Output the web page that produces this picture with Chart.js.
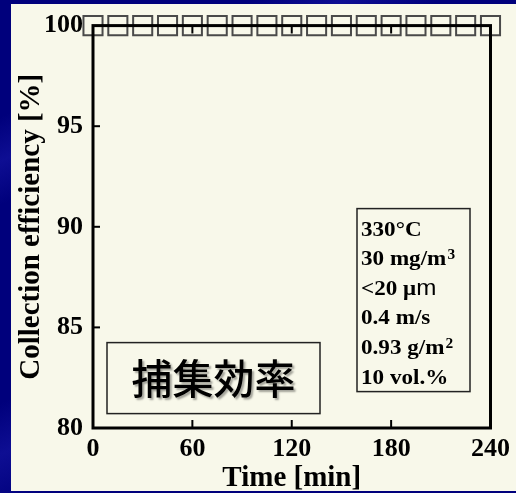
<!DOCTYPE html>
<html>
<head>
<meta charset="utf-8">
<script src="https://cdn.jsdelivr.net/npm/chart.js@4/dist/chart.umd.min.js"></script>
<style>
  html, body { margin: 0; padding: 0; }
  body {
    width: 516px; height: 493px; overflow: hidden;
    background:
      linear-gradient(155deg, rgba(40,40,190,0) 0%, rgba(40,40,190,0) 16%, rgba(40,40,190,0.35) 22%, rgba(40,40,190,0) 28%,
        rgba(40,40,190,0) 55%, rgba(40,40,190,0.35) 62%, rgba(40,40,190,0) 70%, rgba(40,40,190,0) 100%),
      #00007c;
    position: relative;
  }
  .panel {
    position: absolute; left: 11px; top: 4px; width: 505px; height: 487px;
    background: #f8f8ea;
  }
  .wrap { position: absolute; left: 0; top: 0; width: 516px; height: 493px; }
</style>
</head>
<body>
<div class="panel"></div>
<div class="wrap"><canvas id="c"></canvas></div>
<script>
// time [min] and collection efficiency [%]
const times = [0, 15, 30, 45, 60, 75, 90, 105, 120, 135, 150, 165, 180, 195, 210, 225, 240];
const efficiency = [100, 100, 100, 100, 100, 100, 100, 100, 100, 100, 100, 100, 100, 100, 100, 100, 100];
const xTicks = [0, 60, 120, 180, 240];
const yTicks = [80, 85, 90, 95, 100];
// '^' starts a superscript, '|' switches to sans for the rest
const conditions = ['330°C', '30 mg/m^3', '<20 μ|m', '0.4 m/s', '0.93 g/m^2', '10 vol.%'];
const label = '捕集効率';

const serif = "'Liberation Serif', 'Times New Roman', serif";

function drawCondition(ctx, text, x, y) {
  let main = text, sup = '', sans = '';
  if (text.includes('^')) [main, sup] = text.split('^');
  if (text.includes('|')) [main, sans] = text.split('|');
  ctx.font = 'bold 21px ' + serif;
  ctx.fillText(main, x, y);
  let cx = x + ctx.measureText(main).width;
  if (sup) {
    ctx.font = 'bold 14px ' + serif;
    ctx.fillText(sup, cx + 1, y - 6);
  }
  if (sans) {
    ctx.font = '22px "Liberation Sans", Arial, sans-serif';
    ctx.fillText(sans, cx, y);
  }
}

// frame, inward ticks and the two text boxes
const decor = {
  id: 'decor',
  afterDatasetsDraw(chart) {
    const { ctx, chartArea: a, scales: { x, y } } = chart;
    ctx.save();
    ctx.strokeStyle = '#000';
    ctx.lineWidth = 2;
    xTicks.slice(1, -1).forEach(v => {
      const px = x.getPixelForValue(v);
      ctx.beginPath();
      ctx.moveTo(px, a.bottom); ctx.lineTo(px, a.bottom - 8);
      ctx.moveTo(px, a.top); ctx.lineTo(px, a.top + 8);
      ctx.stroke();
    });
    yTicks.slice(1, -1).forEach(v => {
      const py = y.getPixelForValue(v);
      ctx.beginPath();
      ctx.moveTo(a.left, py); ctx.lineTo(a.left + 7, py);
      ctx.stroke();
    });
    ctx.lineWidth = 3;
    ctx.strokeRect(a.left, a.top, a.right - a.left, a.bottom - a.top);

    // conditions box
    const bx = a.left + 264, by = a.top + 183, bw = 113, bh = 183;
    ctx.lineWidth = 1.5;
    ctx.strokeStyle = '#222';
    ctx.strokeRect(bx, by, bw, bh);
    ctx.fillStyle = '#000';
    ctx.textBaseline = 'alphabetic';
    ctx.textAlign = 'left';
    conditions.forEach((t, i) => {
      const tx = bx + 4, ty = by + 27 + i * 29.6;
      ctx.save();
      ctx.translate(tx, ty);
      ctx.scale(1.1, 1);
      drawCondition(ctx, t, 0, 0);
      ctx.restore();
    });

    // Japanese label box
    const lx = a.left + 14, ly = a.top + 317, lw = 213, lh = 71;
    ctx.strokeRect(lx, ly, lw, lh);
    ctx.font = '500 41px "Noto Sans CJK JP", sans-serif';
    ctx.textAlign = 'center';
    ctx.textBaseline = 'middle';
    ctx.shadowColor = 'rgba(0,0,0,0.35)';
    ctx.shadowOffsetX = 2;
    ctx.shadowOffsetY = 2;
    ctx.shadowBlur = 2;
    ctx.fillText(label, lx + lw / 2, ly + lh / 2);
    ctx.restore();
  }
};

new Chart(document.getElementById('c'), {
  type: 'scatter',
  data: {
    datasets: [{
      data: times.map((t, i) => ({ x: t, y: efficiency[i] })),
      pointStyle: 'rect',
      pointRadius: 13.5,
      pointHoverRadius: 13.5,
      borderColor: '#4a4a4a',
      borderWidth: 2,
      backgroundColor: 'rgba(0,0,0,0)',
      clip: false
    }]
  },
  options: {
    responsive: true,
    maintainAspectRatio: false,
    animation: false,
    layout: { padding: { left: 0, top: 24, right: 21, bottom: 0 } },
    plugins: { legend: { display: false }, tooltip: { enabled: false } },
    scales: {
      x: {
        type: 'linear',
        min: 0, max: 240,
        afterFit: s => { s.height = 65; },
        afterBuildTicks: s => { s.ticks = xTicks.map(v => ({ value: v })); },
        grid: { display: false, drawTicks: false },
        border: { display: false },
        ticks: { color: '#000', padding: 6, font: { family: serif, size: 26, weight: 'bold' } },
        title: {
          display: true, text: 'Time [min]', color: '#000',
          padding: { top: 0, bottom: 0 },
          font: { family: serif, size: 29, weight: 'bold', lineHeight: 1 }
        }
      },
      y: {
        min: 80, max: 100,
        afterFit: s => { s.width = 93; },
        afterBuildTicks: s => { s.ticks = yTicks.map(v => ({ value: v })); },
        grid: { display: false, drawTicks: false },
        border: { display: false },
        ticks: { color: '#000', padding: 10, font: { family: serif, size: 26, weight: 'bold' } },
        title: {
          display: true, text: 'Collection efficiency [%]', color: '#000',
          padding: { top: 17, bottom: 0 },
          font: { family: serif, size: 29, weight: 'bold', lineHeight: 1 }
        }
      }
    }
  },
  plugins: [decor]
});
</script>
</body>
</html>
